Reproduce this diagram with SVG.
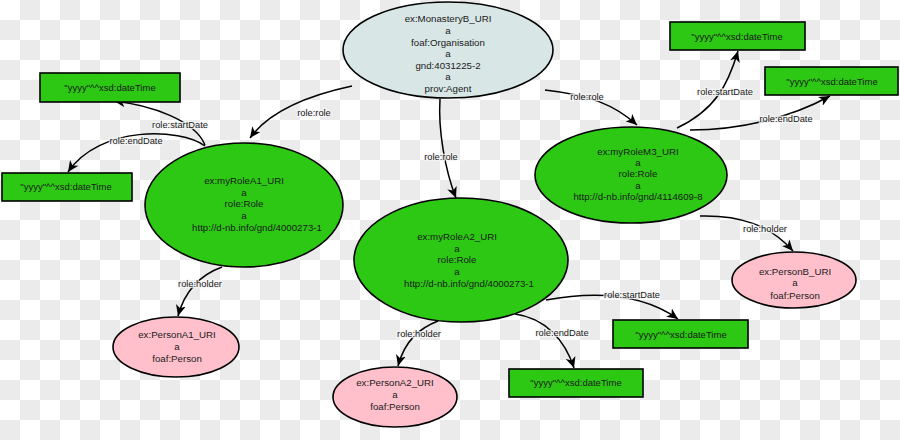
<svg xmlns="http://www.w3.org/2000/svg" width="900" height="440" viewBox="0 0 900 440">
<defs>
<pattern id="checker" x="0" y="0" width="40" height="40" patternUnits="userSpaceOnUse">
<rect x="0" y="0" width="40" height="40" fill="#ffffff"/>
<rect x="20" y="0" width="20" height="20" fill="#ebebeb"/>
<rect x="0" y="20" width="20" height="20" fill="#ebebeb"/>
</pattern>
<marker id="arr" markerUnits="userSpaceOnUse" markerWidth="12" markerHeight="10" refX="11" refY="5" orient="auto" viewBox="0 0 12 10">
<path d="M0,0 L11,5 L0,10 L3,5 z" fill="#000"/>
</marker>
</defs>
<style>
.node text{font-family:"Liberation Sans",Arial,sans-serif;font-size:9.7px;fill:#1a1a1a;text-anchor:middle}
.box rect{fill:#2dc814;stroke:#000;stroke-width:1.6}
.box text{font-size:9.5px}
.green{fill:#2dc814;stroke:#000;stroke-width:1.6}
.pink{fill:#ffc0cb;stroke:#000;stroke-width:1.6}
.agent{fill:#d8e6e6;stroke:#000;stroke-width:1.6}
#connectors path{fill:none;stroke:#000;stroke-width:1.5;marker-end:url(#arr)}
#connectors text{font-family:"Liberation Sans",Arial,sans-serif;font-size:9.3px;fill:#1a1a1a;text-anchor:middle;stroke:#f6f6f6;stroke-width:2.5;stroke-opacity:0.8;paint-order:stroke}
</style>
<rect x="0" y="0" width="900" height="440" fill="url(#checker)"/>

<g id="connectors">
<path d="M352,86 C310,95 270,110 250,138"/>
<path d="M440,99 C438,130 445,170 456,198"/>
<path d="M545,90 C590,95 615,105 637,125"/>
<path d="M205,145 C195,120 150,105 114,101"/>
<path d="M205,146 C180,128 100,125 68,172"/>
<path d="M222,267 C200,275 185,290 178,316"/>
<path d="M677,128 C715,110 728,85 738,51"/>
<path d="M690,130 C740,130 790,118 830,96"/>
<path d="M700,216 C740,215 770,225 793,251"/>
<path d="M546,300 C590,292 640,292 678,319"/>
<path d="M515,314 C545,318 565,340 574,368"/>
<path d="M438,321 C420,328 405,340 398,366"/>
<text x="314" y="116">role:role</text>
<text x="441" y="160">role:role</text>
<text x="587" y="100">role:role</text>
<text x="180" y="128">role:startDate</text>
<text x="136" y="144">role:endDate</text>
<text x="200" y="287">role:holder</text>
<text x="725" y="95">role:startDate</text>
<text x="786" y="122">role:endDate</text>
<text x="765" y="232">role:holder</text>
<text x="632" y="298">role:startDate</text>
<text x="562" y="336">role:endDate</text>
<text x="419" y="337">role:holder</text>
</g>

<g id="monastery" class="node">
<ellipse class="agent" cx="448" cy="50" rx="105" ry="48"/>
<text x="448" y="22">ex:MonasteryB_URI</text>
<text x="448" y="34">a</text>
<text x="448" y="46">foaf:Organisation</text>
<text x="448" y="57">a</text>
<text x="448" y="69">gnd:4031225-2</text>
<text x="448" y="80">a</text>
<text x="448" y="92">prov:Agent</text>
</g>

<g id="roleA1" class="node">
<ellipse class="green" cx="244" cy="205" rx="99" ry="62"/>
<text x="244" y="184">ex:myRoleA1_URI</text>
<text x="244" y="196">a</text>
<text x="244" y="207">role:Role</text>
<text x="244" y="219">a</text>
<text x="257" y="231">http://d-nb.info/gnd/4000273-1</text>
</g>

<g id="roleA2" class="node">
<ellipse class="green" cx="461" cy="260" rx="107" ry="62"/>
<text x="457" y="240">ex:myRoleA2_URI</text>
<text x="457" y="252">a</text>
<text x="457" y="263">role:Role</text>
<text x="457" y="275">a</text>
<text x="469" y="287">http://d-nb.info/gnd/4000273-1</text>
</g>

<g id="roleM3" class="node">
<ellipse class="green" cx="631" cy="175" rx="96" ry="48"/>
<text x="638" y="155">ex:myRoleM3_URI</text>
<text x="638" y="166">a</text>
<text x="638" y="177">role:Role</text>
<text x="638" y="189">a</text>
<text x="638" y="200">http://d-nb.info/gnd/4114609-8</text>
</g>

<g id="personA1" class="node">
<ellipse class="pink" cx="176" cy="347" rx="63" ry="30"/>
<text x="177" y="338">ex:PersonA1_URI</text>
<text x="177" y="350">a</text>
<text x="177" y="362">foaf:Person</text>
</g>

<g id="personA2" class="node">
<ellipse class="pink" cx="395" cy="397" rx="62" ry="30"/>
<text x="395" y="386">ex:PersonA2_URI</text>
<text x="395" y="398">a</text>
<text x="395" y="410">foaf:Person</text>
</g>

<g id="personB" class="node">
<ellipse class="pink" cx="794" cy="280" rx="62" ry="28"/>
<text x="795" y="275">ex:PersonB_URI</text>
<text x="795" y="286">a</text>
<text x="795" y="299">foaf:Person</text>
</g>

<g id="dateA1start" class="node box">
<rect x="40" y="73" width="140" height="29"/>
<text x="110" y="91">"yyyy"^^xsd:dateTime</text>
</g>

<g id="dateA1end" class="node box">
<rect x="2" y="173" width="130" height="28"/>
<text x="66" y="190">"yyyy"^^xsd:dateTime</text>
</g>

<g id="dateM3start" class="node box">
<rect x="670" y="22" width="135" height="28"/>
<text x="737" y="40">"yyyy"^^xsd:dateTime</text>
</g>

<g id="dateM3end" class="node box">
<rect x="765" y="67" width="133" height="28"/>
<text x="832" y="85">"yyyy"^^xsd:dateTime</text>
</g>

<g id="dateA2start" class="node box">
<rect x="613" y="320" width="135" height="28"/>
<text x="681" y="338">"yyyy"^^xsd:dateTime</text>
</g>

<g id="dateA2end" class="node box">
<rect x="509" y="369" width="134" height="28"/>
<text x="576" y="386">"yyyy"^^xsd:dateTime</text>
</g>
</svg>
